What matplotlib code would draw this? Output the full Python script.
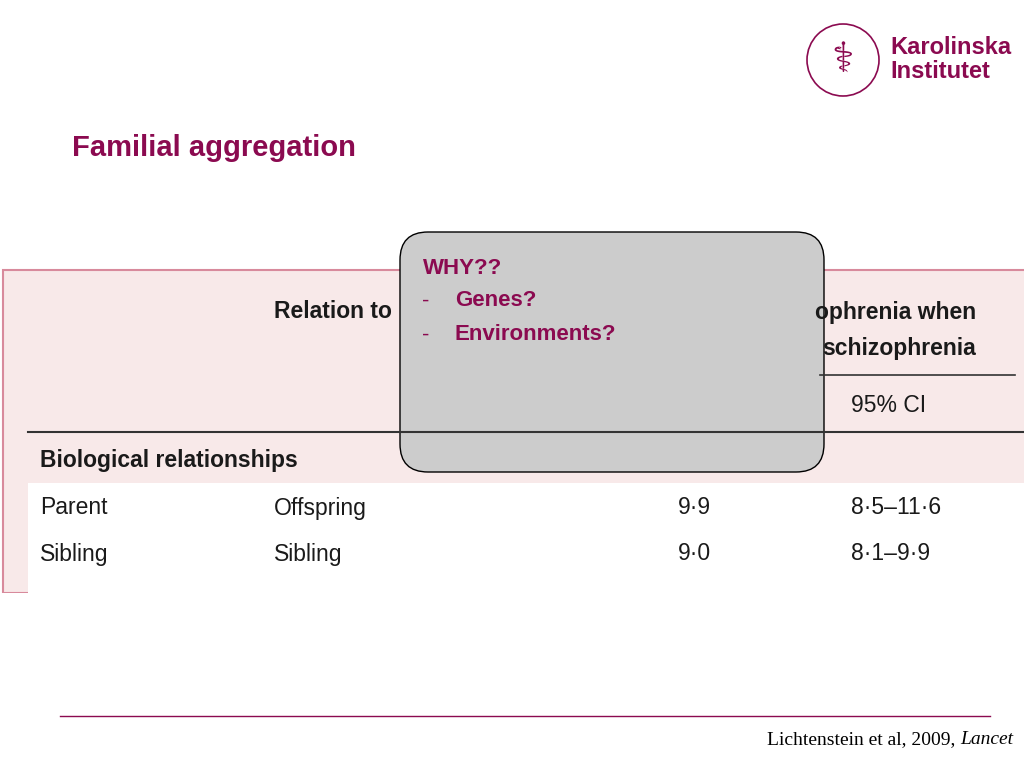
import matplotlib.pyplot as plt
from matplotlib.patches import Rectangle, FancyBboxPatch, Circle

plum = "#8b0a50"
title = "Familial aggregation"
why_lines = ["WHY??", "-", "Genes?", "-", "Environments?"]
relations = ["Parent", "Sibling"]
relatives = ["Offspring", "Sibling"]
rr = ["9·9", "9·0"]
ci = ["8·5–11·6", "8·1–9·9"]

fig = plt.figure(figsize=(10.24, 7.68), dpi=100)
ax = fig.add_axes([0, 0, 1, 1])
ax.set_xlim(0, 1024)
ax.set_ylim(768, 0)
ax.axis("off")
sans = "Liberation Sans"

# logo
ax.add_patch(Circle((843, 60), 36, fill=False, ec=plum, lw=1.2))
ax.text(843, 60, "⚕", color=plum, fontsize=30, ha="center", va="center")
ax.text(890, 47, "Karolinska", color=plum, fontsize=17, fontweight="bold", va="center", family=sans)
ax.text(890, 71, "Institutet", color=plum, fontsize=17, fontweight="bold", va="center", family=sans)

ax.text(72, 148, title, color=plum, fontsize=21, fontweight="bold", va="center", family=sans)

# table image
ax.add_patch(Rectangle((3, 270), 1030, 323, fc="#f8e9e9", ec="#d88a9c", lw=1.5))
ax.add_patch(Rectangle((28, 483), 1000, 111, fc="white", ec="none"))
ax.plot([28, 1024], [432, 432], color="#333333", lw=1.5)
ax.plot([820, 1015], [375, 375], color="#333333", lw=1.2)
tf = dict(fontsize=16.5, color="#1a1a1a", va="center", family=sans)
ax.text(274, 312, "Relation to", fontweight="bold", **tf)
ax.text(815, 312, "ophrenia when", fontweight="bold", **tf)
ax.text(822, 348, "schizophrenia", fontweight="bold", **tf)
ax.text(851, 405, "95% CI", **tf)
ax.text(40, 461, "Biological relationships", fontweight="bold", **tf)
for i in range(len(relations)):
    y = 508 + i * 46
    ax.text(40, y, relations[i], **tf)
    ax.text(274, y, relatives[i], **tf)
    ax.text(678, y, rr[i], **tf)
    ax.text(851, y, ci[i], **tf)
ax.add_patch(Rectangle((0, 593), 1024, 40, fc="white", ec="none"))

# callout box
ax.add_patch(FancyBboxPatch((400, 232), 424, 240, boxstyle="round,pad=0,rounding_size=28",
                            fc="#cccccc", ec="black", lw=1))
bf = dict(color=plum, fontsize=16, va="center", family=sans)
ax.text(423, 268, why_lines[0], fontweight="bold", **bf)
ax.text(422, 301, why_lines[1], **bf)
ax.text(455, 301, why_lines[2], fontweight="bold", **bf)
ax.text(422, 335, why_lines[3], **bf)
ax.text(455, 335, why_lines[4], fontweight="bold", **bf)

ax.plot([60, 990], [716, 716], color=plum, lw=1)
lancet = ax.text(1013, 740, "Lancet", color="black", fontsize=14, family="Liberation Serif",
                 style="italic", ha="right", va="center")
ax.annotate("Lichtenstein et al, 2009, ", xy=(0, 0.5), xycoords=lancet, color="black",
            fontsize=14, family="Liberation Serif", ha="right", va="center")
fig.savefig("out.png", dpi=100)
